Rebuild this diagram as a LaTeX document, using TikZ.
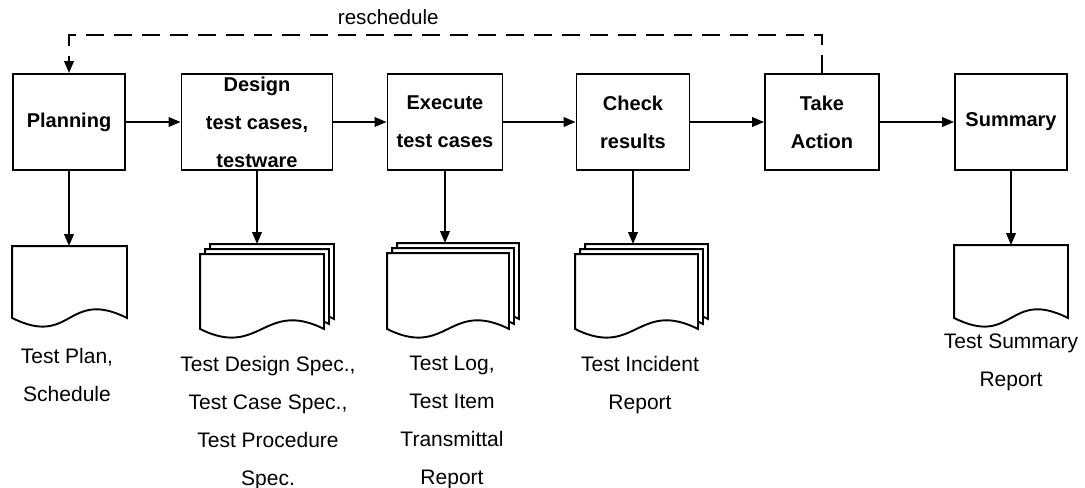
\documentclass[tikz,border=0pt]{standalone}
\usepackage{fontspec}
\setmainfont{Liberation Sans}
\usetikzlibrary{arrows.meta, calc}

% one sheet of a document symbol, shifted back by #2
\newcommand{\docpage}[2]{%
  \draw[page] ($(#1.north west)+(#2,-#2)$) -- ($(#1.south west)+(#2,-#2)$)
    .. controls +(60,30) and +(-60,-30) .. ($(#1.south east)+(#2,-#2)$)
    -- ($(#1.north east)+(#2,-#2)$) -- cycle;}

\begin{document}
\begin{tikzpicture}[x=0.5pt, y=-0.5pt, line width=0.95pt,
  >={Triangle[length=6pt, width=4.8pt]},
  task/.style={rectangle, draw, inner sep=0pt, minimum height=48pt, align=center,
    font=\bfseries\fontsize{10}{19}\selectfont},
  docbox/.style={rectangle, inner sep=0pt},
  page/.style={draw, fill=white},
  output/.style={anchor=north, align=center, inner sep=0pt,
    font=\fontsize{10.5}{19}\selectfont}]
\path[use as bounding box, fill=white] (0,0) rectangle (1085,487);

\node[task, minimum width=56pt]   (plan) at (69,122)   {Planning};
\node[task, minimum width=75.5pt] (des)  at (257,122)  {Design\\test cases,\\testware};
\node[task, minimum width=57.5pt] (exe)  at (445,122)  {Execute\\test cases};
\node[task, minimum width=56.5pt] (chk)  at (633,122)  {Check\\results};
\node[task, minimum width=57pt]   (act)  at (822,122)  {Take\\Action};
\node[task, minimum width=56pt]   (sum)  at (1011,122) {Summary};

\draw[->] (plan) -- (des);
\draw[->] (des) -- (exe);
\draw[->] (exe) -- (chk);
\draw[->] (chk) -- (act);
\draw[->] (act) -- (sum);

\draw[->, dash pattern=on 9pt off 5pt] (act.north) -- ++(0,-38) -| (plan.north)
  node[pos=0.288, above, inner sep=4.5pt, font=\fontsize{10.3}{12}\selectfont] (resched) {reschedule};

% documents
\node[docbox, minimum width=56.5pt, minimum height=35pt]   (pdoc) at (69.5,282)   {};
\node[docbox, minimum width=61pt,   minimum height=36.5pt] (ddoc) at (262,291.5)  {};
\node[docbox, minimum width=60pt,   minimum height=37pt]   (edoc) at (448,291)    {};
\node[docbox, minimum width=60.5pt, minimum height=36.5pt] (cdoc) at (636.5,291.5){};
\node[docbox, minimum width=56pt,   minimum height=35.5pt] (sdoc) at (1011,281.5) {};

\docpage{pdoc}{0}
\docpage{sdoc}{0}
\foreach \n in {ddoc, edoc, cdoc} {
  \foreach \d in {10, 5, 0}
    \docpage{\n}{\d}
  \coordinate (\n-top) at ($(\n.north)+(0,-10)$);
}

\draw[->] (plan) -- (plan |- pdoc.north);
\draw[->] (des) -- (des |- ddoc-top);
\draw[->] (exe) -- (exe |- edoc-top);
\draw[->] (chk) -- (chk |- cdoc-top);
\draw[->] (sum) -- (sum |- sdoc.north);

\node[output] (plabel) at (67,347)   {Test Plan,\\Schedule};
\node[output] (dlabel) at (268,355)  {Test Design Spec.,\\Test Case Spec.,\\Test Procedure\\Spec.};
\node[output] (elabel) at (452,355)  {Test Log,\\Test Item\\Transmittal\\Report};
\node[output] (clabel) at (640,355)  {Test Incident\\Report};
\node[output] (slabel) at (1011,333) {Test Summary\\Report};
\end{tikzpicture}
\end{document}
